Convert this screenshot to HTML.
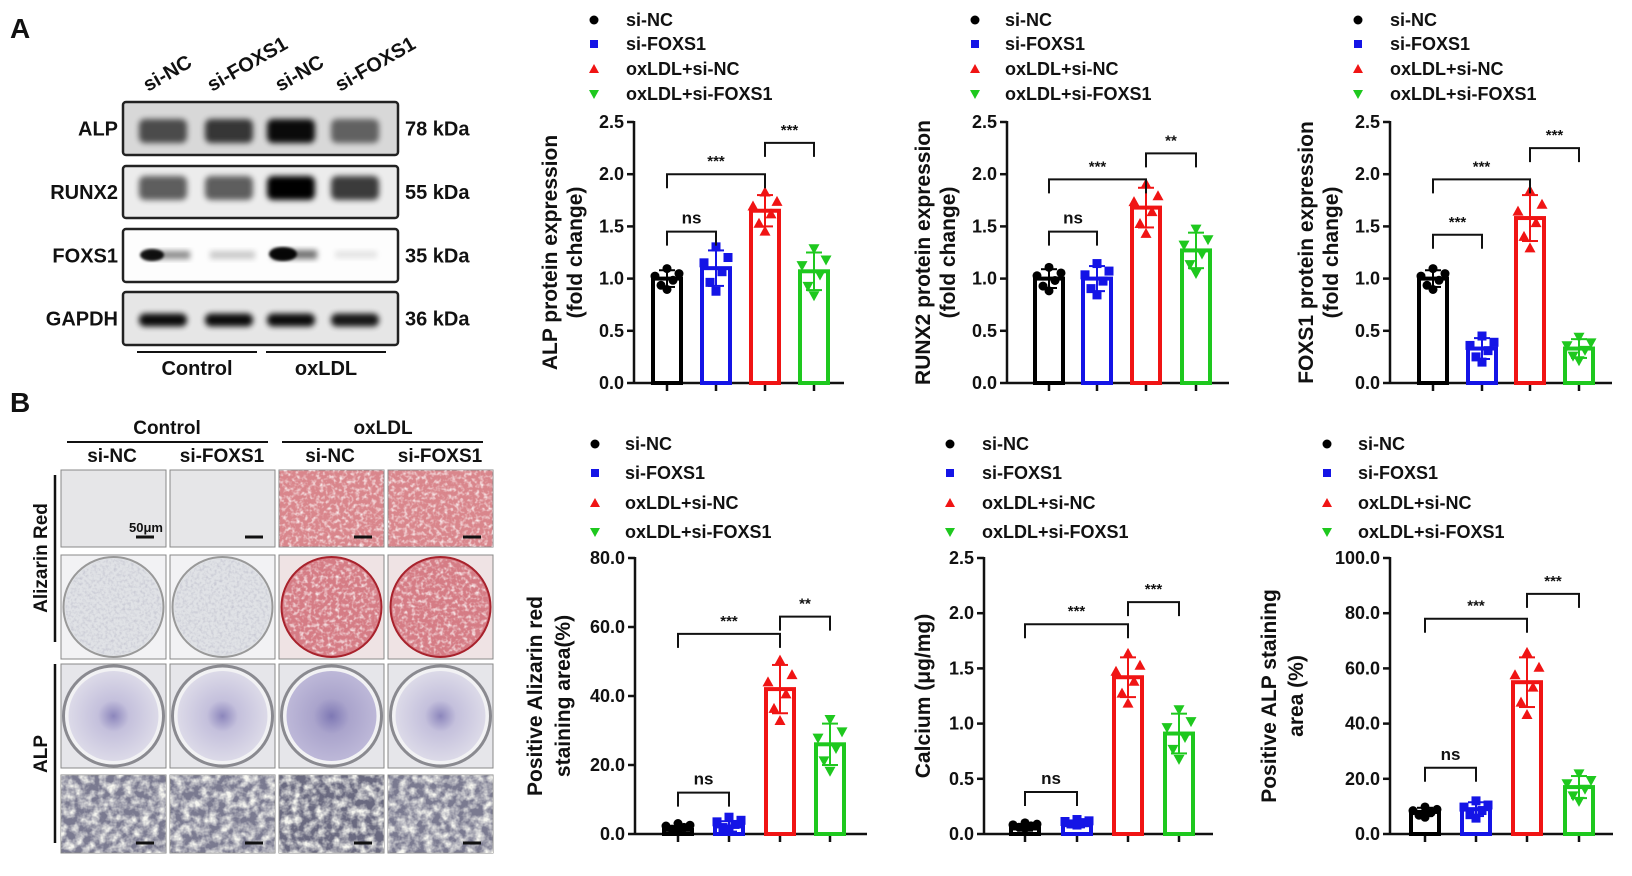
<!DOCTYPE html>
<html><head><meta charset="utf-8"><style>
html,body{margin:0;padding:0;background:#fff;}
svg{display:block;font-family:"Liberation Sans",Arial,sans-serif;font-weight:bold;}
</style></head><body>
<svg id="s" width="1632" height="876" viewBox="0 0 1632 876" xmlns="http://www.w3.org/2000/svg">
<defs>
<filter id="bl" x="-20%" y="-50%" width="140%" height="200%"><feGaussianBlur stdDeviation="3"/></filter>
<filter id="bl2"><feGaussianBlur stdDeviation="1.2"/></filter>
<filter id="noiseG" x="0" y="0" width="100%" height="100%">
 <feTurbulence type="fractalNoise" baseFrequency="0.35" numOctaves="2" seed="3"/>
 <feColorMatrix type="matrix" values="0 0 0 0 0.45  0 0 0 0 0.45  0 0 0 0 0.55  0 0 0 1.2 -0.5"/>
 <feComposite in2="SourceGraphic" operator="in"/>
</filter>
<filter id="noiseR" x="0" y="0" width="100%" height="100%">
 <feTurbulence type="fractalNoise" baseFrequency="0.25" numOctaves="2" seed="7"/>
 <feColorMatrix type="matrix" values="0 0 0 0 1  0 0 0 0 1  0 0 0 0 1  0 0 0 2 -0.9"/>
 <feComposite in2="SourceGraphic" operator="in"/>
</filter>
<filter id="noiseD" x="0" y="0" width="100%" height="100%">
 <feTurbulence type="fractalNoise" baseFrequency="0.12" numOctaves="3" seed="11"/>
 <feColorMatrix type="matrix" values="0 0 0 0 0.93  0 0 0 0 0.93  0 0 0 0 0.88  0 0 0 2.2 -0.75"/>
 <feComposite in2="SourceGraphic" operator="in"/>
</filter>
<radialGradient id="alpw" cx="50%" cy="50%" r="50%">
 <stop offset="0" stop-color="#8c86bc"/><stop offset="0.35" stop-color="#c4c0dc"/><stop offset="1" stop-color="#dcdae8"/>
</radialGradient>
<radialGradient id="alpw2" cx="50%" cy="50%" r="50%">
 <stop offset="0" stop-color="#7e78b4"/><stop offset="0.4" stop-color="#aaa4cc"/><stop offset="1" stop-color="#bdb8d8"/>
</radialGradient>
</defs>
<g id="g"></g>
</svg>
<script>
var g=document.getElementById('g');var h='';
function T(x,y,t,o){o=o||{};h+='<text x="'+x+'" y="'+y+'" font-size="'+(o.s||17)+'" text-anchor="'+(o.a||'start')+'" fill="'+(o.c||'#111')+'"'+(o.r!=null?' transform="rotate('+o.r+' '+x+' '+y+')"':'')+'>'+t+'</text>';}
function L(x1,y1,x2,y2,c,w){h+='<line x1="'+x1+'" y1="'+y1+'" x2="'+x2+'" y2="'+y2+'" stroke="'+(c||'#111')+'" stroke-width="'+(w||2)+'"/>';}
T(10,38,'A',{s:28});
[[148,'si-NC'],[212,'si-FOXS1'],[280,'si-NC'],[340,'si-FOXS1']].forEach(function(a){T(a[0],92,a[1],{s:20,r:-30});});
var boxes=[[102,155,'#d8d8d8','ALP','78 kDa'],[166,218,'#ececec','RUNX2','55 kDa'],[229,282,'#fdfdfd','FOXS1','35 kDa'],[292,345,'#e6e6e6','GAPDH','36 kDa']];
boxes.forEach(function(b){h+='<rect x="123" y="'+b[0]+'" width="275" height="'+(b[1]-b[0])+'" rx="3" fill="'+b[2]+'" stroke="#222" stroke-width="2.5"/>';
T(118,(b[0]+b[1])/2+7,b[3],{s:20,a:'end'});T(405,(b[0]+b[1])/2+7,b[4],{s:20});});
var lanes=[163,229,291,355];
function band(y,hh,ops){lanes.forEach(function(x,i){h+='<rect x="'+(x-24)+'" y="'+(y-hh/2)+'" width="48" height="'+hh+'" rx="6" fill="#000" opacity="'+ops[i]+'" filter="url(#bl)"/>';});}
band(131,24,[0.65,0.75,0.95,0.55]);
band(188,24,[0.6,0.6,1,0.75]);
h+='<ellipse cx="152" cy="255" rx="12" ry="6" fill="#000" opacity="0.9" filter="url(#bl2)"/><rect x="145" y="251" width="45" height="8" fill="#000" opacity="0.45" filter="url(#bl)"/>';
h+='<rect x="210" y="251" width="45" height="8" fill="#000" opacity="0.2" filter="url(#bl)"/>';
h+='<ellipse cx="283" cy="254" rx="14" ry="7" fill="#000" opacity="0.95" filter="url(#bl2)"/><rect x="272" y="250" width="45" height="9" fill="#000" opacity="0.55" filter="url(#bl)"/>';
h+='<rect x="335" y="251" width="42" height="7" fill="#000" opacity="0.1" filter="url(#bl)"/>';
band(320,13,[0.95,0.95,0.95,0.9]);
L(137,352,257,352,'#111',2);L(266,352,386,352,'#111',2);
T(197,375,'Control',{s:20,a:'middle'});T(326,375,'oxLDL',{s:20,a:'middle'});
T(10,412,'B',{s:28});
T(167,434,'Control',{s:19,a:'middle'});T(383,434,'oxLDL',{s:19,a:'middle'});
L(67,442,268,442,'#111',2);L(282,442,483,442,'#111',2);
[[112,'si-NC'],[222,'si-FOXS1'],[330,'si-NC'],[440,'si-FOXS1']].forEach(function(a){T(a[0],462,a[1],{s:19,a:'middle'});});
var cols=[61,170,279,388],cw=105;
var rows=[[470,547],[555,659],[664,768],[775,853]];
cols.forEach(function(x,i){
 var red=i>=2;
 var r=rows[0];
 h+='<rect x="'+x+'" y="'+r[0]+'" width="'+cw+'" height="'+(r[1]-r[0])+'" fill="'+(red?'#d9868c':'#e6e6e8')+'" stroke="#888" stroke-width="1"/>';
 if(red)h+='<rect x="'+x+'" y="'+r[0]+'" width="'+cw+'" height="'+(r[1]-r[0])+'" filter="url(#noiseR)"/>';
 L(x+cw-30,r[1]-10,x+cw-12,r[1]-10,'#111',3);
 r=rows[1];
 h+='<rect x="'+x+'" y="'+r[0]+'" width="'+cw+'" height="'+(r[1]-r[0])+'" fill="'+(red?'#efe3e4':'#f2f2f4')+'" stroke="#888" stroke-width="1"/>';
 h+='<circle cx="'+(x+cw/2)+'" cy="'+((r[0]+r[1])/2)+'" r="50" fill="'+(red?'#d57c85':'#e0e2e6')+'" stroke="'+(red?'#a8222c':'#999')+'" stroke-width="2"/>';
 h+='<circle cx="'+(x+cw/2)+'" cy="'+((r[0]+r[1])/2)+'" r="48" fill="#000" filter="url(#'+(red?'noiseR':'noiseG')+')"/>';
 r=rows[2];
 h+='<rect x="'+x+'" y="'+r[0]+'" width="'+cw+'" height="'+(r[1]-r[0])+'" fill="#e6e6ea" stroke="#888" stroke-width="1"/>';
 h+='<circle cx="'+(x+cw/2)+'" cy="'+((r[0]+r[1])/2)+'" r="50" fill="#f2f2f4" stroke="#8a8a90" stroke-width="3"/>';
 h+='<circle cx="'+(x+cw/2)+'" cy="'+((r[0]+r[1])/2)+'" r="45" fill="url(#'+(i==2?'alpw2':'alpw')+')"/>';
 r=rows[3];
 h+='<rect x="'+x+'" y="'+r[0]+'" width="'+cw+'" height="'+(r[1]-r[0])+'" fill="'+(i==2?'#6a6a80':'#7a7a90')+'" stroke="#888" stroke-width="1"/>';
 h+='<rect x="'+x+'" y="'+r[0]+'" width="'+cw+'" height="'+(r[1]-r[0])+'" filter="url(#noiseD)"/>';
 L(x+cw-30,r[1]-10,x+cw-12,r[1]-10,'#111',3);
});
T(146,532,'50μm',{s:13,a:'middle'});
L(55,475,55,642,'#111',2.5);L(55,664,55,843,'#111',2.5);
T(47,558,'Alizarin Red',{s:19,a:'middle',r:-90});T(47,754,'ALP',{s:19,a:'middle',r:-90});
var cols4=['#000','#1414e6','#f01414','#1ec81e'];
var names=['si-NC','si-FOXS1','oxLDL+si-NC','oxLDL+si-FOXS1'];
function marker(x,y,i,s){s=s||5;
 if(i==0)h+='<circle cx="'+x+'" cy="'+y+'" r="'+s+'" fill="'+cols4[i]+'"/>';
 else if(i==1)h+='<rect x="'+(x-s)+'" y="'+(y-s)+'" width="'+(2*s)+'" height="'+(2*s)+'" fill="'+cols4[i]+'"/>';
 else if(i==2)h+='<polygon points="'+x+','+(y-s-1)+' '+(x+s+1)+','+(y+s)+' '+(x-s-1)+','+(y+s)+'" fill="'+cols4[i]+'"/>';
 else h+='<polygon points="'+x+','+(y+s+1)+' '+(x+s+1)+','+(y-s)+' '+(x-s-1)+','+(y-s)+'" fill="'+cols4[i]+'"/>';}
function chart(c){
 var ax=c.ax,y0=c.y0,y1=c.y1,max=c.max;
 function Y(v){return y0-(v/max)*(y0-y1);}
 names.forEach(function(n,i){marker(c.lm,c.ly[i]-6,i,i==0?4.5:4);T(c.lt,c.ly[i],n,{s:18});});
 L(ax,y1-1,ax,y0,'#111',2.5);L(ax,y0,ax+c.xe,y0,'#111',2.5);
 for(var k=0;k<=c.n;k++){var v=max*k/c.n,yy=Y(v);L(ax-7,yy,ax,yy,'#111',2.5);T(ax-10,yy+6,v.toFixed(1),{s:18,a:'end'});}
 c.off.forEach(function(o,i){L(ax+o,y0,ax+o,y0+8,'#111',2.5);});
 c.m.forEach(function(m,i){var x=ax+c.off[i],yt=Y(m);
  h+='<rect x="'+(x-14)+'" y="'+yt+'" width="28" height="'+(y0-yt)+'" fill="none" stroke="'+cols4[i]+'" stroke-width="4"/>';
  var e=c.sd[i];L(x,Y(m+e),x,Y(m-e),cols4[i],2);L(x-8,Y(m+e),x+8,Y(m+e),cols4[i],2);L(x-8,Y(m-e),x+8,Y(m-e),cols4[i],2);
  var sp=[-12,-6,0,6,12,0],dv=[0.3,-0.8,1.2,-0.2,0.6,-1.3];
  for(var j=0;j<6;j++)marker(x+sp[j],Y(Math.max(m+dv[j]*e,0))-(m<max*0.05?3:0),i,4.5);
 });
 c.br.forEach(function(b){var xa=ax+c.off[b[0]],xb=ax+c.off[b[1]],yy=Y(b[2]);
  h+='<polyline points="'+xa+','+(yy+14)+' '+xa+','+yy+' '+xb+','+yy+' '+xb+','+(yy+14)+'" fill="none" stroke="#111" stroke-width="2"/>';
  T((xa+xb)/2,yy-8,b[3],{s:b[3]=='ns'?17:15,a:'middle'});});
 c.t.forEach(function(t){T(t[0],(y0+y1)/2,t[1],{s:21,a:'middle',r:-90});});
}
var tl=[26,50,75,100],bl=[450,479,509,538];
chart({ax:634,y0:383,y1:122,max:2.5,n:5,xe:210,off:[33,82,131,180],lm:594,lt:626,ly:tl,
 m:[1.0,1.1,1.65,1.07],sd:[0.08,0.17,0.15,0.18],
 br:[[0,1,1.45,'ns'],[0,2,2.0,'***'],[2,3,2.3,'***']],t:[[557,'ALP  protein expression'],[582,'(fold change)']]});
chart({ax:1007,y0:383,y1:122,max:2.5,n:5,xe:222,off:[42,90,139,189],lm:975,lt:1005,ly:tl,
 m:[1.0,1.0,1.68,1.27],sd:[0.09,0.12,0.19,0.17],
 br:[[0,1,1.45,'ns'],[0,2,1.95,'***'],[2,3,2.2,'**']],t:[[930,'RUNX2  protein expression'],[955,'(fold change)']]});
chart({ax:1390,y0:383,y1:122,max:2.5,n:5,xe:222,off:[43,92,140,189],lm:1358,lt:1390,ly:tl,
 m:[1.0,0.33,1.58,0.33],sd:[0.08,0.1,0.22,0.09],
 br:[[0,1,1.42,'***'],[0,2,1.95,'***'],[2,3,2.25,'***']],t:[[1313,'FOXS1  protein expression'],[1338,'(fold change)']]});
chart({ax:635,y0:834,y1:558,max:80,n:4,xe:232,off:[43,94,145,195],lm:595,lt:625,ly:bl,
 m:[1.2,2.2,42,26],sd:[0.8,1.5,7,6],
 br:[[0,1,12,'ns'],[0,2,58,'***'],[2,3,63,'**']],t:[[542,'Positive Alizarin red'],[570,'staining area(%)']]});
chart({ax:984,y0:834,y1:558,max:2.5,n:5,xe:229,off:[41,93,144,195],lm:950,lt:982,ly:bl,
 m:[0.05,0.08,1.42,0.91],sd:[0.02,0.02,0.18,0.18],
 br:[[0,1,0.38,'ns'],[0,2,1.9,'***'],[2,3,2.1,'***']],t:[[930,'Calcium (μg/mg)']]});
chart({ax:1390,y0:834,y1:558,max:100,n:5,xe:223,off:[35,86,137,189],lm:1327,lt:1358,ly:bl,
 m:[8,9,55,17],sd:[1.5,2.5,9,4],
 br:[[0,1,24,'ns'],[0,2,78,'***'],[2,3,87,'***']],t:[[1276,'Positive ALP staining'],[1303,'area (%)']]});
g.innerHTML=h;
</script>
</body></html>
